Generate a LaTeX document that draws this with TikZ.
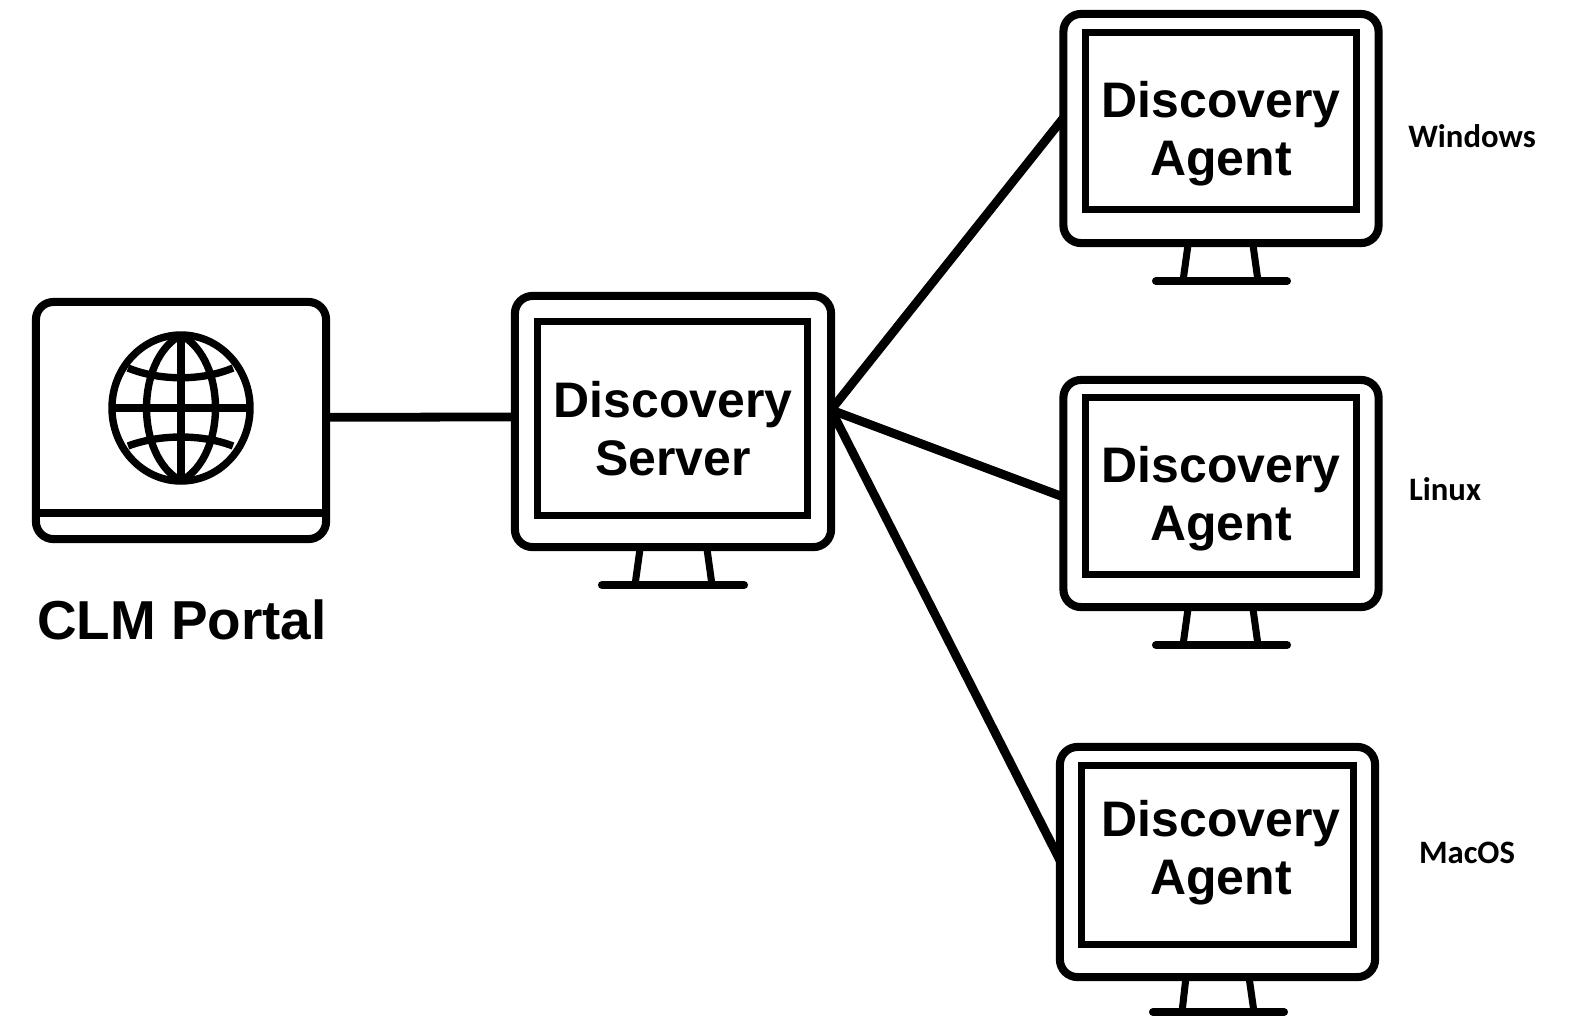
\documentclass[tikz,border=0pt]{standalone}
\usepackage{fontspec}
\usetikzlibrary{shapes.geometric}
\setmainfont{Liberation Sans}
\newfontfamily\oslabelfont{Carlito}
\tikzset{
  monitor/.style={draw, line width=2.3pt, rounded corners=5pt, outer sep=0pt, minimum width=3.15cm},
  screen/.style={draw, line width=2pt, outer sep=0pt},
  caption/.style={font=\fontsize{14.2}{16.5}\selectfont\bfseries, align=center, inner sep=0pt},
  oslabel/.style={font=\fontsize{9.3}{11}\oslabelfont\bfseries, inner sep=0pt},
  stand/.style={line width=2pt},
  standbase/.style={line width=2.3pt, line cap=round},
  link/.style={line width=2.5pt},
  globe/.style={line width=2.1pt}
}
\begin{document}
\begin{tikzpicture}[x=0.01cm,y=-0.01cm]
\useasboundingbox (0,0) rectangle (1569,1017);

% portal
\node[monitor, minimum width=2.9cm, minimum height=2.37cm] (portal) at (181,420.5) {};
\draw[line width=2.2pt] (portal.west |- 0,513) -- (portal.east |- 0,513);
\node[draw, globe, ellipse, outer sep=0pt, minimum width=1.38cm, minimum height=1.46cm, inner sep=0pt] (earth) at (181,408) {};
\draw[globe] (earth.north) -- (earth.south);
\draw[globe] (earth.west) -- (earth.east);
\draw[globe] (earth.north) .. controls (135,360) and (135,456) .. (earth.south);
\draw[globe] (earth.north) .. controls (227,360) and (227,456) .. (earth.south);
\draw[globe] (128,368) .. controls (160,381) and (202,381) .. (233,368);
\draw[globe] (128,446) .. controls (160,434) and (202,434) .. (233,446);
\node[caption, font=\fontsize{15.6}{19}\selectfont\bfseries] (portaltext) at (182,620) {CLM Portal};

% server
\node[monitor, minimum height=2.51cm, minimum width=3.16cm] (server) at (673,421.5) {};
\node[screen, minimum width=2.69cm, minimum height=1.93cm] (serverscreen) at (672.5,418.5) {};
\node[caption] (servertext) at (673,429) {Discovery\\Server};
\draw[stand] (640,549) -- (635,585);
\draw[stand] (707,549) -- (712,585);
\draw[standbase] (602,585) -- (744,585);

% agents
\node[monitor, minimum height=2.29cm] (agent1) at (1221,128.5) {};
\node[screen, minimum width=2.70cm, minimum height=1.76cm] (screen1) at (1221,121) {};
\node[caption] (text1) at (1221,133.5) {Discovery\\Agent};
\draw[stand] (1188,245) -- (1183,281);
\draw[stand] (1253,245) -- (1258,281);
\draw[standbase] (1156,281) -- (1287,281);

\node[monitor, minimum height=2.27cm] (agent2) at (1221,493.5) {};
\node[screen, minimum width=2.70cm, minimum height=1.76cm] (screen2) at (1221,486) {};
\node[caption] (text2) at (1221,499) {Discovery\\Agent};
\draw[stand] (1188,609) -- (1183,645);
\draw[stand] (1253,609) -- (1258,645);
\draw[standbase] (1156,645) -- (1287,645);

\node[monitor, minimum height=2.30cm] (agent3) at (1217.5,862) {};
\node[screen, minimum width=2.71cm, minimum height=1.78cm] (screen3) at (1217.5,855) {};
\node[caption] (text3) at (1221,853) {Discovery\\Agent};
\draw[stand] (1186,977) -- (1182,1012);
\draw[stand] (1249,977) -- (1254,1012);
\draw[standbase] (1153,1012) -- (1284,1012);

\node[oslabel] (win) at (1472,136) {Windows};
\node[oslabel] (lin) at (1445,489) {Linux};
\node[oslabel] (mac) at (1467,853) {MacOS};

% links
\draw[link] ([yshift=0.9pt]portal.east) -- ([yshift=1.3pt]server.west);
\draw[link] ([yshift=3.3pt]server.east) -- ([yshift=3pt]agent1.west);
\draw[link] ([yshift=3.3pt]server.east) -- ([yshift=-1pt]agent2.west);
\draw[link] ([yshift=3.3pt]server.east) -- ([yshift=0.5pt]agent3.west);
\end{tikzpicture}
\end{document}
